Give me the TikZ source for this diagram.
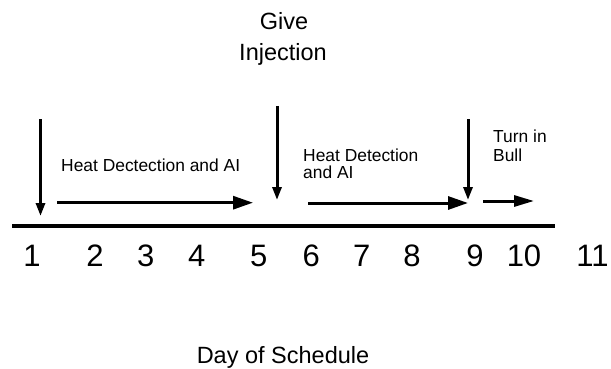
\documentclass[tikz,border=0pt]{standalone}
\usepackage{fontspec}
\setmainfont{Liberation Sans}
\usetikzlibrary{arrows.meta}
\begin{document}
\begin{tikzpicture}[x=1pt,y=-1pt,
  num/.style={anchor=base,inner sep=0pt,font=\fontsize{31}{31}\selectfont},
  lbl/.style={inner sep=0pt,font=\fontsize{17.4}{17}\selectfont,align=left},
  darr/.style={line width=3pt,-{Triangle[length=13pt,width=9pt]}},
  rarr/.style={line width=3pt,-{Triangle[length=20pt,width=13pt]}},
  axis/.style={line width=4pt}]
\useasboundingbox (0,0) rectangle (611,369);
% axis
\coordinate (axL) at (12,226);
\coordinate (axR) at (555,226);
\draw[axis] (axL) -- (axR);
% numbers
\foreach \n/\x in {1/32,2/95,3/145.7,4/196.7,5/258.7,6/311.3,7/361.7,8/412,9/475,10/524,11/592.5}
  \node[num] (n\n) at (\x,266.7) {\n};
% down arrows
\coordinate (d1a) at (40.5,119); \coordinate (d1b) at (40.5,216);
\coordinate (d2a) at (277,106); \coordinate (d2b) at (277,200);
\coordinate (d3a) at (468,119); \coordinate (d3b) at (468,200);
\draw[darr] (d1a) -- (d1b);
\draw[darr] (d2a) -- (d2b);
\draw[darr] (d3a) -- (d3b);
% right arrows
\coordinate (r1a) at (57,202.7); \coordinate (r1b) at (253,202.7);
\coordinate (r2a) at (308,203); \coordinate (r2b) at (468,203);
\coordinate (r3a) at (483,201); \coordinate (r3b) at (534,201);
\draw[rarr] (r1a) -- (r1b);
\draw[rarr] (r2a) -- (r2b);
\draw[line width=3pt,-{Triangle[length=20pt,width=11pt]}] (r3a) -- (r3b);
% labels
\node[lbl,anchor=base west] (hd1) at (61,171) {Heat Dectection and AI};
\node[lbl,anchor=base west] (hd2a) at (303,161) {Heat Detection};
\node[lbl,anchor=base west] (hd2b) at (303,178) {and AI};
\node[lbl,anchor=base west] (tb1) at (493,142.7) {Turn in};
\node[lbl,anchor=base west] (tb2) at (493,161.7) {Bull};
\node[inner sep=0pt,anchor=base,font=\fontsize{23.5}{23}\selectfont] (gi1) at (284,30) {Give};
\node[inner sep=0pt,anchor=base,font=\fontsize{23.5}{23}\selectfont] (gi2) at (283,61) {Injection};
\node[inner sep=0pt,anchor=base,font=\fontsize{23.5}{24}\selectfont] (day) at (283,363) {Day of Schedule};
\end{tikzpicture}
\end{document}
